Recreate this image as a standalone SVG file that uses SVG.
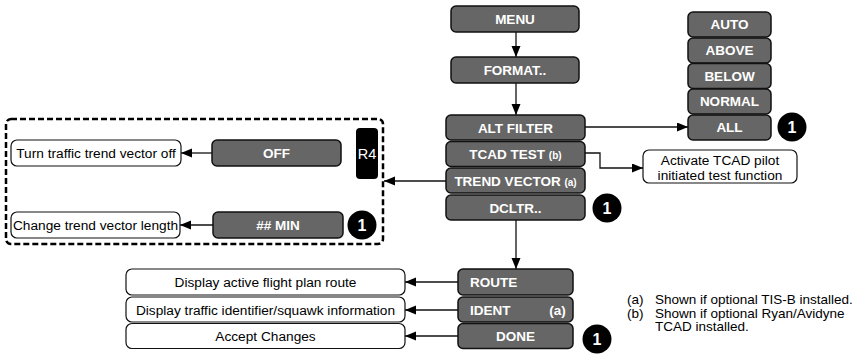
<svg xmlns="http://www.w3.org/2000/svg" width="864" height="355" viewBox="0 0 864 355">
<style>
.n{fill:#666;stroke:#111;stroke-width:1.5}
.t{fill:#fff;font-family:"Liberation Sans",Arial,sans-serif;font-weight:bold;font-size:13.5px;text-anchor:middle}
.s{font-size:10px}
.w{fill:#fff;stroke:#111;stroke-width:1.2}
.d{fill:#000;font-family:"Liberation Sans",Arial,sans-serif;font-size:13.7px;text-anchor:middle}
.c{fill:#000}
.ct{fill:#fff;font-family:"Liberation Sans",Arial,sans-serif;font-weight:bold;font-size:16px;text-anchor:middle}
.l{fill:none;stroke:#111;stroke-width:1.3}
.f{fill:#000;font-family:"Liberation Sans",Arial,sans-serif;font-size:13.5px}
</style>
<defs>
<marker id="a" markerUnits="userSpaceOnUse" markerWidth="12" markerHeight="10" refX="11" refY="4.5" orient="auto">
<path d="M0,0 L11,4.5 L0,9 z" fill="#000"/>
</marker>
</defs>
<g id="connectors">
<line class="l" x1="516" y1="32" x2="516" y2="57" marker-end="url(#a)"/>
<line class="l" x1="516" y1="83" x2="516" y2="115" marker-end="url(#a)"/>
<line class="l" x1="585" y1="127" x2="688" y2="127" marker-end="url(#a)"/>
<polyline class="l" points="585,153 600,153 600,168 643,168" marker-end="url(#a)"/>
<line class="l" x1="446" y1="181" x2="384" y2="181" marker-end="url(#a)"/>
<line class="l" x1="212" y1="153" x2="181" y2="153" marker-end="url(#a)"/>
<line class="l" x1="213" y1="225" x2="180" y2="225" marker-end="url(#a)"/>
<line class="l" x1="516" y1="220" x2="516" y2="269" marker-end="url(#a)"/>
<line class="l" x1="458" y1="282" x2="405" y2="282" marker-end="url(#a)"/>
<line class="l" x1="458" y1="310" x2="405" y2="310" marker-end="url(#a)"/>
<line class="l" x1="458" y1="336" x2="405" y2="336" marker-end="url(#a)"/>
</g>
<g id="menu"><rect class="n" x="451" y="6" width="128" height="26" rx="5"/><text class="t" x="515" y="24">MENU</text></g>
<g id="format"><rect class="n" x="451" y="57" width="128" height="26" rx="5"/><text class="t" x="515" y="75">FORMAT..</text></g>
<g id="auto"><rect class="n" x="688" y="12" width="83" height="25" rx="5"/><text class="t" x="729.5" y="29">AUTO</text></g>
<g id="above"><rect class="n" x="688" y="38" width="83" height="25" rx="5"/><text class="t" x="729.5" y="55">ABOVE</text></g>
<g id="below"><rect class="n" x="688" y="63.5" width="83" height="25" rx="5"/><text class="t" x="729.5" y="80.5">BELOW</text></g>
<g id="normal"><rect class="n" x="688" y="89" width="83" height="25" rx="5"/><text class="t" x="729.5" y="106">NORMAL</text></g>
<g id="all"><rect class="n" x="688" y="115" width="83" height="25" rx="5"/><text class="t" x="729.5" y="132">ALL</text></g>
<g id="note-all"><circle class="c" cx="792" cy="127" r="14.5"/><text class="ct" x="792" y="133">1</text></g>
<g id="altfilter"><rect class="n" x="446" y="115" width="139" height="25" rx="5"/><text class="t" x="515.5" y="132.5">ALT FILTER</text></g>
<g id="tcadtest"><rect class="n" x="446" y="141.5" width="139" height="25" rx="5"/><text class="t" x="515.5" y="159">TCAD TEST <tspan class="s">(b)</tspan></text></g>
<g id="trendvector"><rect class="n" x="446" y="168" width="139" height="25" rx="5"/><text class="t" x="515.5" y="185.5">TREND VECTOR <tspan class="s">(a)</tspan></text></g>
<g id="dcltr"><rect class="n" x="446" y="195" width="139" height="25" rx="5"/><text class="t" x="515.5" y="212.5">DCLTR..</text></g>
<g id="note-dcltr"><circle class="c" cx="607" cy="208" r="14.5"/><text class="ct" x="607" y="214">1</text></g>
<g id="tcad-desc"><rect class="w" x="643" y="150" width="154" height="33" rx="6"/><text class="d" x="720" y="165">Activate TCAD pilot</text><text class="d" x="720" y="179.5">initiated test function</text></g>
<g id="trend-group"><rect x="6" y="119" width="377" height="125" rx="5" fill="none" stroke="#000" stroke-width="2.5" stroke-dasharray="6,3"/></g>
<g id="r4"><rect x="356" y="128" width="22" height="51" rx="4" fill="#000"/><text x="367" y="158.5" fill="#fff" font-family="Liberation Sans,Arial,sans-serif" font-size="14.5" text-anchor="middle">R4</text></g>
<g id="off"><rect class="n" x="212" y="140" width="129" height="26" rx="5"/><text class="t" x="276.5" y="158">OFF</text></g>
<g id="off-desc"><rect class="w" x="11" y="140" width="170" height="26" rx="6"/><text class="d" x="96" y="158">Turn traffic trend vector off</text></g>
<g id="min"><rect class="n" x="213" y="212" width="130" height="26" rx="5"/><text class="t" x="278" y="230">## MIN</text></g>
<g id="note-min"><circle class="c" cx="362" cy="225" r="14.5"/><text class="ct" x="362" y="231">1</text></g>
<g id="min-desc"><rect class="w" x="11" y="212" width="169" height="26" rx="6"/><text class="d" x="95.5" y="230">Change trend vector length</text></g>
<g id="route"><rect class="n" x="458" y="269" width="115" height="26" rx="5"/><text class="t" x="470" y="287" style="text-anchor:start">ROUTE</text></g>
<g id="ident"><rect class="n" x="458" y="297" width="115" height="25" rx="5"/><text class="t" x="470" y="314.5" style="text-anchor:start">IDENT</text><text class="t" x="557.5" y="314.5">(a)</text></g>
<g id="done"><rect class="n" x="458" y="323.5" width="115" height="25" rx="5"/><text class="t" x="515.5" y="341">DONE</text></g>
<g id="note-done"><circle class="c" cx="597" cy="339" r="14.5"/><text class="ct" x="597" y="345">1</text></g>
<g id="route-desc"><rect class="w" x="126" y="269" width="279" height="26" rx="6"/><text class="d" x="265.5" y="287">Display active flight plan route</text></g>
<g id="ident-desc"><rect class="w" x="126" y="297" width="279" height="25" rx="6"/><text class="d" x="265.5" y="314.5">Display traffic identifier/squawk information</text></g>
<g id="done-desc"><rect class="w" x="126" y="323.5" width="279" height="25" rx="6"/><text class="d" x="265.5" y="341">Accept Changes</text></g>
<g id="footnotes">
<text class="f" x="627" y="304">(a)</text><text class="f" x="655" y="304">Shown if optional TIS-B installed.</text>
<text class="f" x="627" y="317.5">(b)</text><text class="f" x="655" y="317.5">Shown if optional Ryan/Avidyne</text>
<text class="f" x="655" y="331">TCAD installed.</text>
</g>
</svg>
